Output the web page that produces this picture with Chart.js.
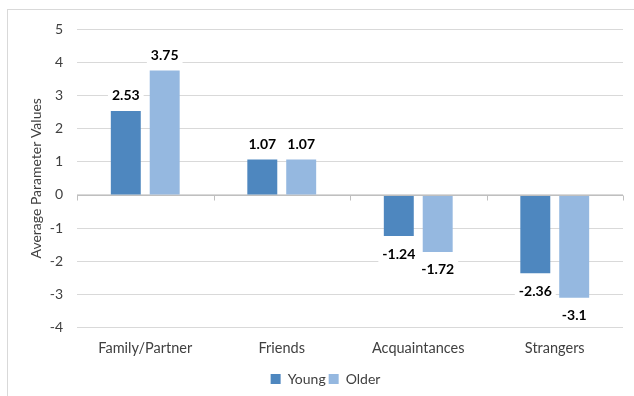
<!DOCTYPE html>
<html>
<head>
<meta charset="utf-8">
<script src="https://cdn.jsdelivr.net/npm/chart.js@4"></script>
<style>
  html, body { margin: 0; padding: 0; background: #fff; }
  #wrap { position: relative; width: 634px; height: 396px; overflow: hidden; }
  #frame { position: absolute; left: 7px; top: 9px; width: 640px; height: 400px; border: 1px solid #d9d9d9; box-sizing: border-box; }
  canvas { position: absolute; left: 0; top: 0; }
</style>
</head>
<body>
<div id="wrap">
  <div id="frame"></div>
  <canvas id="chart" width="634" height="396"></canvas>
</div>
<script>
/* data */
const categories = ['Family/Partner', 'Friends', 'Acquaintances', 'Strangers'];
const youngValues = [2.53, 1.07, -1.24, -2.36];
const olderValues = [3.75, 1.07, -1.72, -3.1];
const seriesNames = ['Young', 'Older'];
const yMin = -4, yMax = 5, yStep = 1;

const FONT = 'Lato, "Open Sans", sans-serif';

/* value labels with white backing, like Excel data labels */
const valueLabels = {
  id: 'valueLabels',
  afterDatasetsDraw(chart) {
    const ctx = chart.ctx;
    ctx.save();
    ctx.font = 'bold 14px ' + FONT;
    ctx.textAlign = 'center';
    ctx.textBaseline = 'middle';
    chart.data.datasets.forEach((ds, di) => {
      chart.getDatasetMeta(di).data.forEach((bar, i) => {
        const v = ds.data[i];
        const txt = String(v);
        const y = v >= 0 ? bar.y - 15 : bar.y + 18;
        const w = ctx.measureText(txt).width + 8;
        ctx.fillStyle = '#fff';
        ctx.fillRect(bar.x - w / 2, y - 9, w, 18);
        ctx.fillStyle = '#000';
        ctx.fillText(txt, bar.x, y);
      });
    });
    ctx.restore();
  }
};

/* small tick marks on the zero axis between categories */
const zeroTicks = {
  id: 'zeroTicks',
  afterDatasetsDraw(chart) {
    const { ctx, scales: { x, y } } = chart;
    const y0 = Math.round(y.getPixelForValue(0)) + 0.5;
    const step = (x.right - x.left) / categories.length;
    ctx.save();
    ctx.strokeStyle = '#bfbfbf';
    ctx.lineWidth = 1;
    ctx.beginPath();
    for (let i = 0; i <= categories.length; i++) {
      const px = Math.round(x.left + i * step) + 0.5;
      ctx.moveTo(px, y0);
      ctx.lineTo(px, y0 + 5);
    }
    ctx.moveTo(x.left, y0);
    ctx.lineTo(x.right, y0);
    ctx.stroke();
    ctx.restore();
  }
};

new Chart(document.getElementById('chart'), {
  type: 'bar',
  data: {
    labels: categories,
    datasets: [
      { label: seriesNames[0], data: youngValues, backgroundColor: '#4e87bf',
        categoryPercentage: 0.57, barPercentage: 0.77 },
      { label: seriesNames[1], data: olderValues, backgroundColor: '#95b8e0',
        categoryPercentage: 0.57, barPercentage: 0.77 }
    ]
  },
  options: {
    responsive: false,
    animation: false,
    layout: { padding: { left: 28, right: 11, top: 29, bottom: 0 } },
    plugins: {
      legend: {
        position: 'bottom',
        labels: {
          boxWidth: 10, boxHeight: 10, padding: 3,
          color: '#404040',
          font: { family: FONT, size: 14 }
        }
      },
      tooltip: { enabled: false }
    },
    scales: {
      y: {
        min: yMin, max: yMax,
        ticks: { stepSize: yStep, color: '#404040', padding: 14, font: { family: FONT, size: 14 } },
        grid: { color: '#d9d9d9', drawTicks: false },
        border: { display: false },
        title: {
          display: true, text: 'Average Parameter Values', color: '#404040',
          font: { family: FONT, size: 14 }, padding: { top: 0, bottom: 0 }
        },
        afterFit(scale) { scale.width = 49; }
      },
      x: {
        grid: { display: false, drawTicks: false },
        border: { display: false },
        ticks: { color: '#404040', padding: 12, font: { family: FONT, size: 14.5 } }
      }
    }
  },
  plugins: [valueLabels, zeroTicks]
});
</script>
</body>
</html>
